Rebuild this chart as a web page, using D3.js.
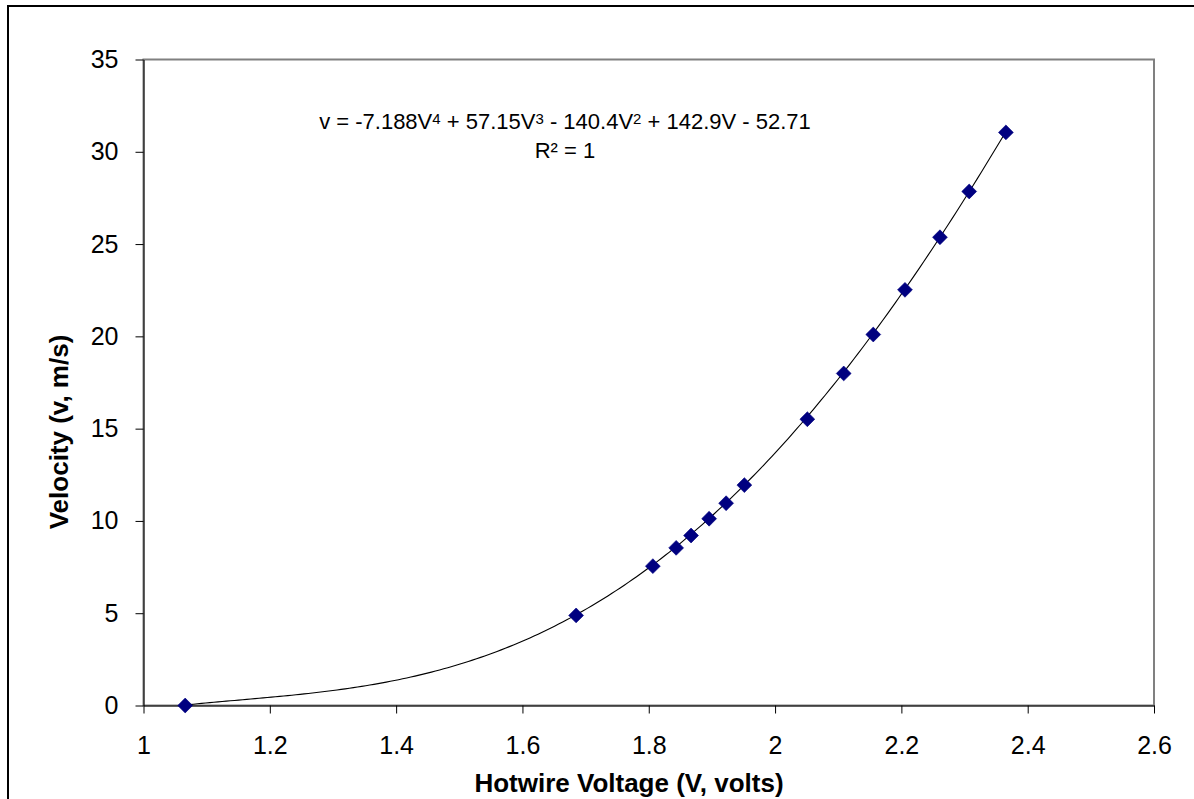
<!DOCTYPE html>
<html>
<head>
<meta charset="utf-8">
<script src="https://cdn.jsdelivr.net/npm/d3@7"></script>
<style>
  html, body { margin: 0; padding: 0; background: #fff; }
  svg { display: block; }
  text { font-family: "Liberation Sans", Arial, sans-serif; fill: #000; }
</style>
</head>
<body>
<svg id="chart" width="1194" height="799"></svg>
<script>
// Hotwire calibration: measured voltage vs. velocity
const voltage  = [1.066, 1.685, 1.8065, 1.8434, 1.867, 1.8956, 1.9225, 1.9514,
                  2.0511, 2.1087, 2.1555, 2.2057, 2.2611, 2.3074, 2.3655];
const velocity = [0, 4.88, 7.55, 8.54, 9.21, 10.12, 10.96, 11.94,
                  15.51, 17.99, 20.10, 22.52, 25.37, 27.85, 31.05];

// 4th-order polynomial trendline, highest power first
const trendCoefs = [-7.188, 57.15, -140.4, 142.9, -52.71];

const xTicks = [1, 1.2, 1.4, 1.6, 1.8, 2, 2.2, 2.4, 2.6];
const xTickLabels = ["1", "1.2", "1.4", "1.6", "1.8", "2", "2.2", "2.4", "2.6"];
const yTicks = [0, 5, 10, 15, 20, 25, 30, 35];
const yTickLabels = ["0", "5", "10", "15", "20", "25", "30", "35"];

const svg = d3.select("#chart");

const plot = { left: 143.5, top: 59.5, right: 1154, bottom: 705.5 };

const x = d3.scaleLinear().domain([1, 2.6]).range([plot.left, plot.right]);
const y = d3.scaleLinear().domain([0, 35]).range([plot.bottom, plot.top]);

// outer chart frame
svg.append("rect")
  .attr("x", 8).attr("y", 6)
  .attr("width", 1300).attr("height", 900)
  .attr("fill", "none").attr("stroke", "#000").attr("stroke-width", 2);

// plot area border
svg.append("rect")
  .attr("x", plot.left).attr("y", plot.top)
  .attr("width", plot.right - plot.left).attr("height", plot.bottom - plot.top)
  .attr("fill", "#fff").attr("stroke", "#808080").attr("stroke-width", 2);

// axes
const xAxis = d3.axisBottom(x)
  .tickValues(xTicks)
  .tickFormat((d, i) => xTickLabels[i])
  .tickSizeInner(8).tickSizeOuter(0).tickPadding(23);
const yAxis = d3.axisLeft(y)
  .tickValues(yTicks)
  .tickFormat((d, i) => yTickLabels[i])
  .tickSizeInner(8).tickSizeOuter(0).tickPadding(17);

const gx = svg.append("g").attr("transform", `translate(0,${plot.bottom})`).call(xAxis);
const gy = svg.append("g").attr("transform", `translate(${plot.left},0)`).call(yAxis);

[gx, gy].forEach(g => {
  g.selectAll("path.domain").attr("stroke", "#000").attr("stroke-width", 1);
  g.selectAll(".tick line").attr("stroke", "#000").attr("stroke-width", 1);
  g.selectAll(".tick text")
    .style("font-family", '"Liberation Sans", Arial, sans-serif')
    .style("font-size", "25px").attr("fill", "#000");
});

// trendline from the fitted polynomial
const poly = v => trendCoefs.reduce((acc, c) => acc * v + c, 0);
const vMin = d3.min(voltage), vMax = d3.max(voltage);
const trendPts = d3.range(0, 201).map(i => {
  const v = vMin + (vMax - vMin) * i / 200;
  return [v, poly(v)];
});
svg.append("path")
  .datum(trendPts)
  .attr("fill", "none").attr("stroke", "#000").attr("stroke-width", 1.1)
  .attr("d", d3.line().x(d => x(d[0])).y(d => y(d[1])));

// data markers: diamonds
const diamond = d3.symbol().type(d3.symbolSquare).size(110);
svg.append("g").selectAll("path")
  .data(voltage.map((v, i) => [v, velocity[i]]))
  .join("path")
  .attr("d", diamond)
  .attr("transform", d => `translate(${x(d[0])},${y(d[1])}) rotate(45)`)
  .attr("fill", "#000080").attr("stroke", "#000080").attr("stroke-width", 0.6);

// trendline equation
const eq = svg.append("text")
  .attr("x", 565).attr("y", 129)
  .attr("text-anchor", "middle")
  .style("font-size", "22px");
const eqParts = [
  ["v = -7.188V", false], ["4", true], [" + 57.15V", false], ["3", true],
  [" - 140.4V", false], ["2", true], [" + 142.9V - 52.71", false]
];
eqParts.forEach(([t, sup], i) => {
  const ts = eq.append("tspan").text(t);
  if (sup) ts.style("font-size", "15px").attr("dy", -5);
  else ts.attr("dy", i > 0 ? 5 : 0);
});

svg.append("text")
  .attr("x", 565).attr("y", 158)
  .attr("text-anchor", "middle")
  .style("font-size", "22px")
  .text("R² = 1");

// axis titles
svg.append("text")
  .attr("x", 629).attr("y", 792)
  .attr("text-anchor", "middle")
  .style("font-size", "26px").style("font-weight", "bold")
  .text("Hotwire Voltage (V, volts)");

svg.append("text")
  .attr("transform", "translate(68,432) rotate(-90)")
  .attr("text-anchor", "middle")
  .style("font-size", "26px").style("font-weight", "bold")
  .text("Velocity (v, m/s)");
</script>
</body>
</html>
